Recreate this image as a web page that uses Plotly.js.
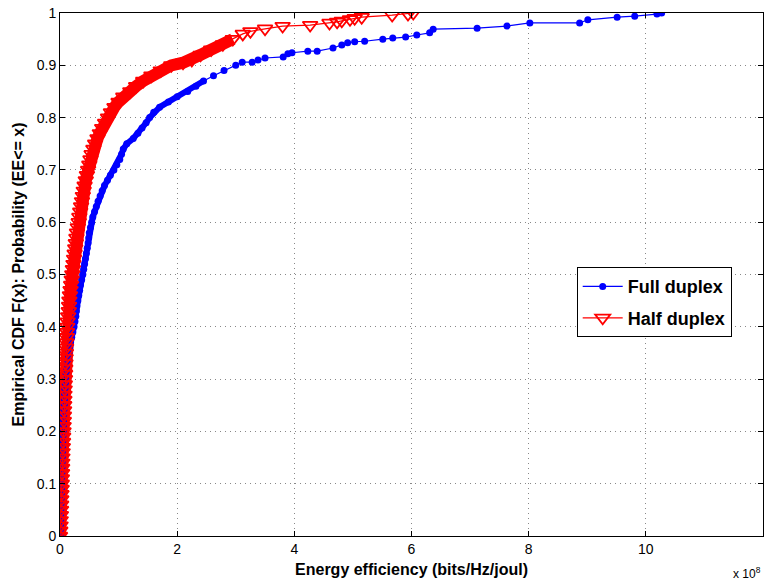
<!DOCTYPE html>
<html>
<head>
<meta charset="utf-8">
<script src="https://cdn.plot.ly/plotly-3.0.1.min.js"></script>
<style>html,body{margin:0;padding:0;background:#fff;}#chart{width:769px;height:584px;}</style>
</head>
<body>
<div id="chart"></div>
<script>
// Energy efficiency in units of 1e8 bits/Hz/joul, CDF probability
const fullX = [0.0,0.004,0.007,0.009,0.011,0.013,0.015,0.017,0.019,0.021,0.024,0.027,0.03,0.032,0.035,0.037,0.04,0.043,0.046,0.05,
  0.054,0.057,0.06,0.063,0.066,0.07,0.074,0.078,0.083,0.09,0.097,0.105,0.115,0.125,0.137,0.15,0.165,0.18,0.2,0.22,
  0.24,0.255,0.27,0.28,0.29,0.305,0.32,0.335,0.35,0.37,0.39,0.405,0.42,0.435,0.45,0.465,0.48,0.49,0.5,0.52,
  0.54,0.56,0.59,0.62,0.65,0.685,0.72,0.76,0.81,0.86,0.92,0.97,1.02,1.05,1.08,1.14,1.25,1.33,1.4,1.47,
  1.53,1.6,1.7,1.85,2.0,2.18,2.32,2.45,2.62,2.8,3.0,3.11,3.28,3.38,3.5,3.81,3.89,3.96,4.23,4.39,
  4.66,4.81,4.91,5.03,5.20,5.51,5.68,5.90,6.09,6.31,6.37,7.12,7.63,8.02,8.87,9.01,9.51,9.81,10.19,10.27];
const fullY = [0.0,0.01,0.02,0.03,0.04,0.05,0.06,0.07,0.08,0.09,0.10,0.11,0.12,0.13,0.14,0.15,0.16,0.17,0.18,0.19,
  0.20,0.21,0.22,0.23,0.24,0.25,0.26,0.27,0.28,0.29,0.30,0.31,0.32,0.33,0.34,0.35,0.36,0.37,0.38,0.39,
  0.40,0.41,0.42,0.43,0.44,0.45,0.46,0.47,0.48,0.49,0.50,0.51,0.52,0.53,0.54,0.55,0.56,0.57,0.58,0.59,
  0.60,0.61,0.62,0.63,0.64,0.65,0.66,0.67,0.68,0.69,0.70,0.71,0.72,0.73,0.74,0.75,0.76,0.77,0.78,0.79,
  0.80,0.81,0.82,0.83,0.84,0.85,0.86,0.87,0.88,0.89,0.90,0.906,0.906,0.91,0.914,0.916,0.922,0.924,0.927,0.927,
  0.933,0.939,0.943,0.945,0.946,0.950,0.952,0.954,0.958,0.962,0.969,0.971,0.975,0.981,0.981,0.987,0.992,0.994,0.998,1.0];

const halfX = [0.0,0.005,0.01,0.012,0.015,0.018,0.02,0.022,0.025,0.028,0.03,0.032,0.035,0.037,0.04,0.042,0.045,0.048,0.052,0.055,
  0.06,0.062,0.065,0.067,0.07,0.072,0.075,0.077,0.08,0.082,0.085,0.088,0.09,0.093,0.096,0.1,0.105,0.11,0.115,0.12,
  0.125,0.13,0.14,0.15,0.155,0.16,0.17,0.18,0.19,0.2,0.21,0.22,0.23,0.24,0.25,0.26,0.27,0.28,0.29,0.305,
  0.32,0.33,0.345,0.36,0.375,0.39,0.405,0.42,0.44,0.46,0.48,0.5,0.52,0.54,0.57,0.6,0.64,0.68,0.72,0.77,
  0.82,0.87,0.93,1.0,1.08,1.2,1.3,1.42,1.56,1.72,1.9,2.1,2.25,2.4,2.58,2.78,2.95,3.12,3.25,3.5,
  3.8,4.27,4.6,4.73,4.81,4.95,5.03,5.15,5.67,5.94,6.03];
const halfY = [0.0,0.01,0.02,0.03,0.04,0.05,0.06,0.07,0.08,0.09,0.10,0.11,0.12,0.13,0.14,0.15,0.16,0.17,0.18,0.19,
  0.20,0.21,0.22,0.23,0.24,0.25,0.26,0.27,0.28,0.29,0.30,0.31,0.32,0.33,0.34,0.35,0.36,0.37,0.38,0.39,
  0.40,0.41,0.42,0.43,0.44,0.45,0.46,0.47,0.48,0.49,0.50,0.51,0.52,0.53,0.54,0.55,0.56,0.57,0.58,0.59,
  0.60,0.61,0.62,0.63,0.64,0.65,0.66,0.67,0.68,0.69,0.70,0.71,0.72,0.73,0.74,0.75,0.76,0.77,0.78,0.79,
  0.80,0.81,0.82,0.83,0.84,0.85,0.86,0.87,0.88,0.89,0.90,0.905,0.91,0.92,0.93,0.94,0.95,0.96,0.965,0.97,
  0.975,0.977,0.981,0.983,0.985,0.988,0.99,0.992,0.996,0.998,1.0];

const xTicks = [0,2,4,6,8,10,12];
const yTicks = [0,0.1,0.2,0.3,0.4,0.5,0.6,0.7,0.8,0.9,1];
const yTickText = ['0','0.1','0.2','0.3','0.4','0.5','0.6','0.7','0.8','0.9','1'];

const FONT = 'Liberation Sans, Arial, Helvetica, sans-serif';

// portion of each curve where the reference's markers merge into a solid band
const halfBandEnd = 97;   // up to y = 0.95
const fullBandEnd = 88;   // up to y = 0.88

const traces = [
  {x: halfX.slice(0, halfBandEnd), y: halfY.slice(0, halfBandEnd), type: 'scatter', mode: 'lines',
   line: {color: '#ff0000', width: 12}, showlegend: false, hoverinfo: 'skip'},
  {x: fullX.slice(0, fullBandEnd), y: fullY.slice(0, fullBandEnd), type: 'scatter', mode: 'lines',
   line: {color: '#0000ff', width: 6}, showlegend: false, hoverinfo: 'skip'},
  {x: fullX, y: fullY, name: '<b>Full duplex</b>', type: 'scatter', mode: 'lines+markers', legendgroup: 'a',
   line: {color: '#0000ff', width: 1.2},
   marker: {symbol: 'circle', size: 7, color: '#0000ff'}},
  {x: halfX, y: halfY, name: '<b>Half duplex</b>', type: 'scatter', mode: 'lines+markers', legendgroup: 'b',
   line: {color: '#ff0000', width: 1.2},
   marker: {symbol: 'triangle-down-open', size: 13, color: '#ff0000', line: {color: '#ff0000', width: 1.8}}}
];

const axisCommon = {
  showline: true, linecolor: '#000', linewidth: 1, mirror: 'ticks',
  ticks: 'inside', ticklen: 5, tickcolor: '#000', tickwidth: 1,
  showgrid: true, gridcolor: '#888', griddash: '1px,4px', gridwidth: 1,
  zeroline: false, tickfont: {family: FONT, size: 14, color: '#000'}
};

const layout = {
  width: 769, height: 584,
  margin: {l: 60, r: 6, t: 13, b: 48},
  paper_bgcolor: '#fff', plot_bgcolor: '#fff',
  showlegend: true,
  legend: {x: 0.735, y: 0.514, xanchor: 'left', yanchor: 'top',
    bgcolor: '#fff', bordercolor: '#000', borderwidth: 1, itemwidth: 40,
    traceorder: 'grouped', tracegroupgap: 5,
    font: {family: FONT, size: 18, color: '#000'}},
  xaxis: Object.assign({}, axisCommon, {
    range: [0, 12], tickvals: xTicks, ticktext: xTicks.map(String),
    title: {text: '<b>Energy efficiency (bits/Hz/joul)</b>', font: {family: FONT, size: 16, color: '#000'}, standoff: 8}
  }),
  yaxis: Object.assign({}, axisCommon, {
    range: [0, 1], tickvals: yTicks, ticktext: yTickText,
    title: {text: '<b>Empirical CDF F(x): Probability (EE<= x)</b>', font: {family: FONT, size: 16, color: '#000'}, standoff: 8}
  }),
  annotations: [
    {xref: 'paper', yref: 'paper', x: 1.0, y: 0, xanchor: 'right', yanchor: 'top', yshift: -27, xshift: 0,
     text: 'x 10<sup>8</sup>', showarrow: false, font: {family: FONT, size: 12, color: '#000'}}
  ]
};

Plotly.newPlot('chart', traces, layout, {displayModeBar: false, staticPlot: true});
</script>
</body>
</html>
